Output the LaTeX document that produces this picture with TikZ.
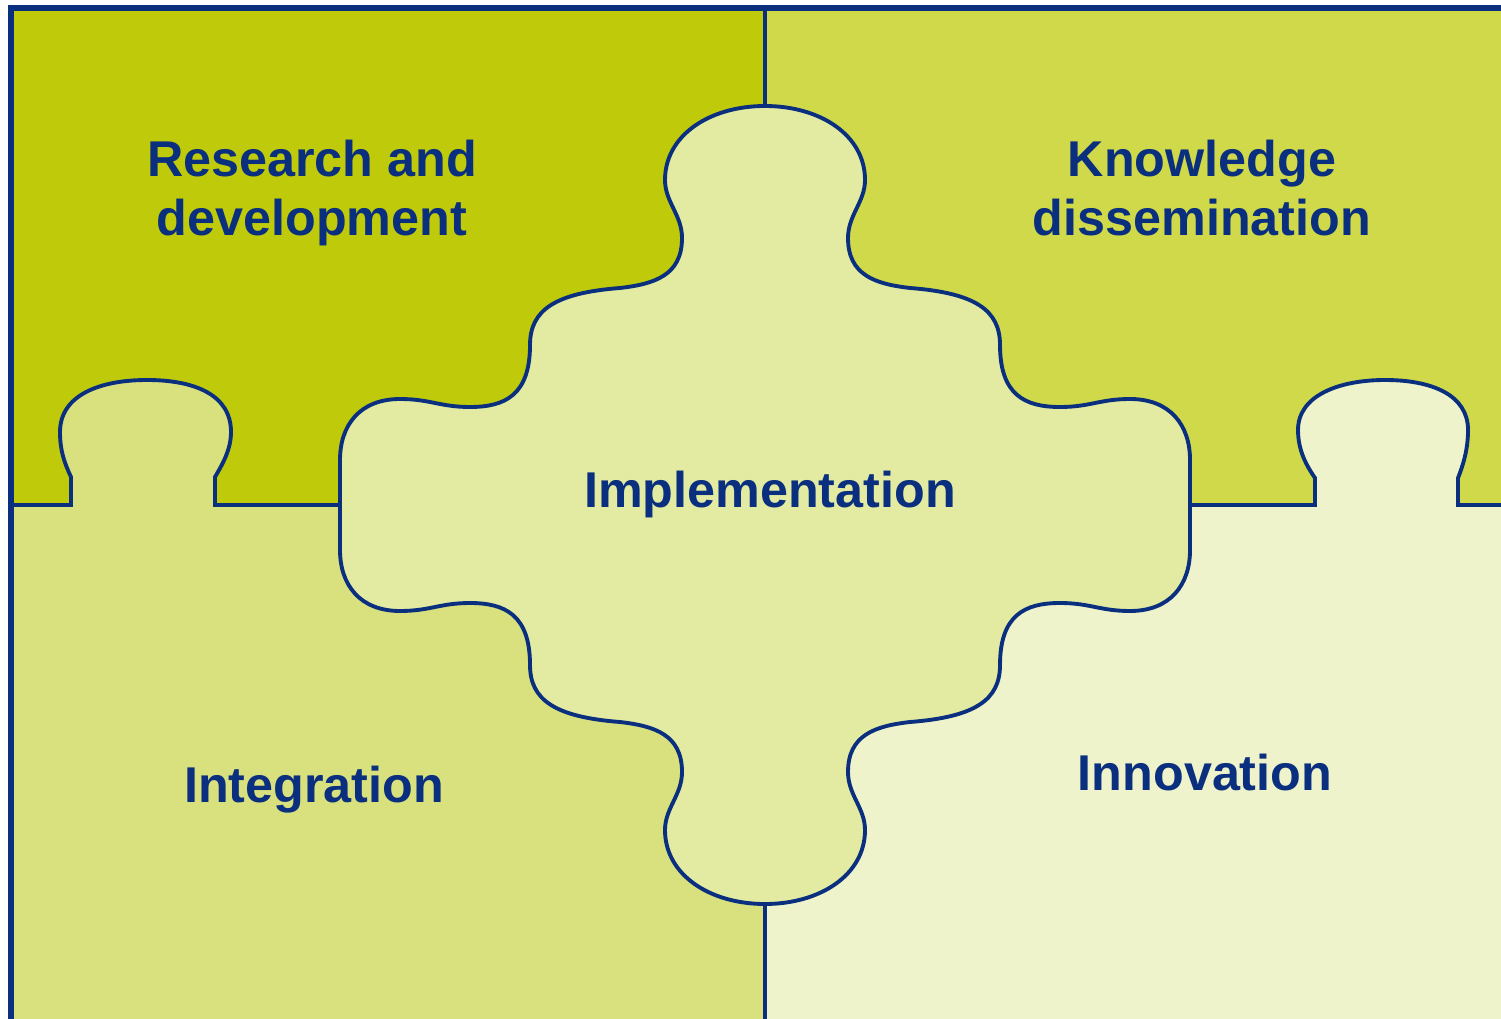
\documentclass[tikz,border=0pt]{standalone}
\usepackage{fontspec}
\setmainfont{Liberation Sans}
\usepackage{tikz}

\definecolor{navy}{HTML}{0A2F7F}
\definecolor{rdfill}{HTML}{BECA0A}
\definecolor{kdfill}{HTML}{CFD94A}
\definecolor{infill}{HTML}{D9E07E}
\definecolor{iofill}{HTML}{EEF3CB}
\definecolor{implfill}{HTML}{E2EBA1}

\begin{document}
\begin{tikzpicture}[
    x=0.01cm,
    y=-0.01cm,
    font=\fontsize{14.3pt}{16.6pt}\selectfont\bfseries,
    edge/.style={
		draw=navy,
		line width=1.1pt
	},
    frame/.style={
		draw=navy,
		line width=1.5pt
	},
    caption/.style={
		text=navy,
		align=center,
		inner sep=0pt
	}
  ]
  % page with its margins
  \useasboundingbox[fill=white] (0,0) rectangle (1501,1019);

  % the four quarters
  \fill[rdfill] (11,8) rectangle (765,505);
  \fill[kdfill] (765,8) rectangle (1501,505);
  \fill[infill] (11,505) rectangle (765,1019);
  \fill[iofill] (765,505) rectangle (1501,1019);

  % borders between the quarters, with their tabs
  \path[edge, fill=infill] (11,505) -- (71,505) -- (71,477)
    .. controls (64,462) and (60,450) .. (60,432)
    .. controls (60,395) and (100,380) .. (147,380)
    .. controls (195,380) and (231,395) .. (231,432)
    .. controls (231,450) and (222,465) .. (215,477)
    -- (215,505) -- (340,505);
  \path[edge, fill=iofill] (1190,505) -- (1315,505) -- (1315,478)
    .. controls (1306,465) and (1298,450) .. (1298,430)
    .. controls (1298,395) and (1340,380) .. (1385,380)
    .. controls (1432,380) and (1468,395) .. (1468,430)
    .. controls (1468,450) and (1463,465) .. (1458,478)
    -- (1458,505) -- (1501,505);
  \draw[edge] (765,8) -- (765,106);
  \draw[edge] (765,903) -- (765,1019);

  % the middle piece
  \begin{scope}[shift={(765,505)}]
  \path[edge, fill=implfill] (0,-399)
    .. controls (-55,-399) and (-100,-370) .. (-100,-325)
    .. controls (-100,-303) and (-83,-290) .. (-83,-267)
    .. controls (-83,-230) and (-110,-221) .. (-145,-217)
    .. controls (-210,-212) and (-235,-195) .. (-235,-160)
    .. controls (-235,-110) and (-260,-98) .. (-295,-98)
    .. controls (-325,-98) and (-335,-106) .. (-365,-106)
    .. controls (-405,-106) and (-425,-80) .. (-425,-45)
    -- (-425,45)
    .. controls (-425,80) and (-405,106) .. (-365,106)
    .. controls (-335,106) and (-325,98) .. (-295,98)
    .. controls (-260,98) and (-235,110) .. (-235,160)
    .. controls (-235,195) and (-210,212) .. (-145,217)
    .. controls (-110,221) and (-83,230) .. (-83,267)
    .. controls (-83,290) and (-100,303) .. (-100,325)
    .. controls (-100,370) and (-55,399) .. (0,399)
    .. controls (55,399) and (100,370) .. (100,325)
    .. controls (100,303) and (83,290) .. (83,267)
    .. controls (83,230) and (110,221) .. (145,217)
    .. controls (210,212) and (235,195) .. (235,160)
    .. controls (235,110) and (260,98) .. (295,98)
    .. controls (325,98) and (335,106) .. (365,106)
    .. controls (405,106) and (425,80) .. (425,45)
    -- (425,-45)
    .. controls (425,-80) and (405,-106) .. (365,-106)
    .. controls (335,-106) and (325,-98) .. (295,-98)
    .. controls (260,-98) and (235,-110) .. (235,-160)
    .. controls (235,-195) and (210,-212) .. (145,-217)
    .. controls (110,-221) and (83,-230) .. (83,-267)
    .. controls (83,-290) and (100,-303) .. (100,-325)
    .. controls (100,-370) and (55,-399) .. (0,-399)
    -- cycle;
  \end{scope}

  % outer frame
  \draw[frame] (11,1019) -- (11,8) -- (1501,8);

  % the labels
  \node [caption] (research) at (312,193) {Research and\\development};
  \node [caption] (knowledge) at (1202,188) {Knowledge\\dissemination};
  \node [caption, anchor=base] (implementation) at (770,508) {Implementation};
  \node [caption, anchor=base] (integration) at (314,802) {Integration};
  \node [caption, anchor=base] (innovation) at (1205,790) {Innovation};

\end{tikzpicture}
\end{document}
